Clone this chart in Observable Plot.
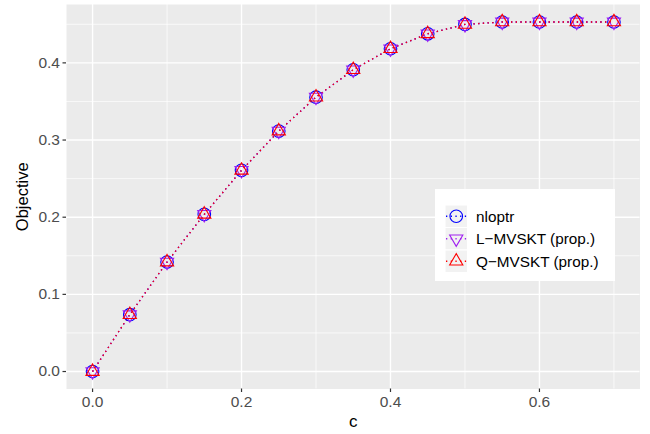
<!DOCTYPE html>
<html>
<head>
<meta charset="utf-8">
<script src="https://cdn.jsdelivr.net/npm/d3@7"></script>
<script src="https://cdn.jsdelivr.net/npm/@observablehq/plot@0.6"></script>
<style>
  html, body { margin: 0; padding: 0; background: #fff; }
  #wrap { position: relative; width: 650px; height: 434px; font-family: "Liberation Sans", Arial, sans-serif; }
  #legend { position: absolute; left: 435px; top: 189px; width: 180px; height: 92px; background: #fff; }
</style>
</head>
<body>
<div id="wrap"></div>
<script>
const cValues = [0, 0.05, 0.1, 0.15, 0.2, 0.25, 0.3, 0.35, 0.4, 0.45, 0.5, 0.55, 0.6, 0.65, 0.7];
const nloptr = [0, 0.0737, 0.1419, 0.2037, 0.2607, 0.3116, 0.3556, 0.3911, 0.4183, 0.4377, 0.4498, 0.4530, 0.4530, 0.4530, 0.4530];
const lMVSKT = [0, 0.0737, 0.1419, 0.2037, 0.2607, 0.3116, 0.3556, 0.3911, 0.4183, 0.4377, 0.4498, 0.4530, 0.4530, 0.4530, 0.4530];
const qMVSKT = [0, 0.0737, 0.1419, 0.2037, 0.2607, 0.3116, 0.3556, 0.3911, 0.4183, 0.4377, 0.4498, 0.4530, 0.4530, 0.4530, 0.4530];
const seriesNames = ["nloptr", "L\u2212MVSKT (prop.)", "Q\u2212MVSKT (prop.)"];
const seriesColors = ["#0000FF", "#A020F0", "#FF0000"];
const xMajor = [0, 0.2, 0.4, 0.6];
const xMinor = [0.1, 0.3, 0.5, 0.7];
const yMajor = [0, 0.1, 0.2, 0.3, 0.4];
const yMinor = [0.05, 0.15, 0.25, 0.35, 0.45];

const seriesValues = [nloptr, lMVSKT, qMVSKT];
const data = [];
seriesValues.forEach((vals, i) => {
  cValues.forEach((c, j) => data.push({c, y: vals[j], s: seriesNames[i]}));
});

const yMax = d3.max(data, d => d.y);
const xExp = 0.05 * (d3.max(cValues) - d3.min(cValues));
const yExp = 0.05 * yMax;

const dash = "1.3,3.4";
const tickFont = 15.5;
const fmt = d3.format(".1f");
const marks = [
  Plot.frame({fill: "#EBEBEB", stroke: null}),
  Plot.ruleX(xMinor, {stroke: "#fff", strokeWidth: 0.7}),
  Plot.ruleY(yMinor, {stroke: "#fff", strokeWidth: 0.7}),
  Plot.ruleX(xMajor, {stroke: "#fff", strokeWidth: 1.4}),
  Plot.ruleY(yMajor, {stroke: "#fff", strokeWidth: 1.4}),
  Plot.axisX(xMajor, {tickSize: 3.5, stroke: "#333", strokeWidth: 1.2, text: null, label: null}),
  Plot.axisY(yMajor, {tickSize: 3.5, stroke: "#333", strokeWidth: 1.2, text: null, label: null}),
  Plot.text(xMajor, {x: d => d, frameAnchor: "bottom", dy: 13, lineAnchor: "middle", text: fmt, fontSize: tickFont, fill: "#4D4D4D"}),
  Plot.text(yMajor, {y: d => d, frameAnchor: "left", dx: -6.5, textAnchor: "end", text: fmt, fontSize: tickFont, fill: "#4D4D4D"}),
];
seriesNames.forEach((name, i) => {
  marks.push(Plot.line(data.filter(d => d.s === name), {x: "c", y: "y", stroke: seriesColors[i], strokeWidth: 1.3, strokeDasharray: dash, strokeLinecap: "butt"}));
});
const symbols = ["circle", "triangle", "triangle"];
const radii = [6.3, 4.9, 4.9];
const rotations = [0, 180, 0];
seriesNames.forEach((name, i) => {
  marks.push(Plot.dot(data.filter(d => d.s === name), {x: "c", y: "y", symbol: symbols[i], r: radii[i], rotate: rotations[i], stroke: seriesColors[i], strokeWidth: 1.1, fill: "none"}));
});
marks.push(Plot.text(["c"], {frameAnchor: "bottom", dy: 38, fontSize: 17, fill: "#000"}));
marks.push(Plot.text(["Objective"], {frameAnchor: "left", textAnchor: "middle", dx: -44, rotate: -90, fontSize: 16.5, fill: "#000"}));

const chart = Plot.plot({
  width: 650,
  height: 434,
  marginLeft: 66,
  marginRight: 10.5,
  marginTop: 4,
  marginBottom: 45.5,
  style: {fontFamily: "'Liberation Sans', Arial, sans-serif", background: "#fff"},
  x: {domain: [d3.min(cValues) - xExp, d3.max(cValues) + xExp]},
  y: {domain: [-yExp, yMax + yExp]},
  marks
});
const wrap = document.getElementById("wrap");
wrap.appendChild(chart);

// Legend
const legend = document.createElement("div");
legend.id = "legend";
wrap.appendChild(legend);
const lsvg = d3.select(legend).append("svg").attr("width", 180).attr("height", 92);
const keyX = 10, keyY = 16, keySize = 22.5;
seriesNames.forEach((name, i) => {
  const y0 = keyY + i * keySize;
  const g = lsvg.append("g");
  g.append("rect").attr("x", keyX).attr("y", y0).attr("width", keySize).attr("height", keySize)
    .attr("fill", "#F2F2F2").attr("stroke", "#fff").attr("stroke-width", 1);
  const cx = keyX + keySize / 2, cy = y0 + keySize / 2;
  g.append("line").attr("x1", keyX + 1).attr("x2", keyX + keySize - 1).attr("y1", cy).attr("y2", cy)
    .attr("stroke", seriesColors[i]).attr("stroke-width", 1.3).attr("stroke-dasharray", dash);
  if (symbols[i] === "circle") {
    g.append("circle").attr("cx", cx).attr("cy", cy).attr("r", radii[i])
      .attr("fill", "none").attr("stroke", seriesColors[i]).attr("stroke-width", 1.1);
  } else {
    const path = d3.symbol(d3.symbolTriangle, Math.PI * radii[i] * radii[i])();
    g.append("path").attr("d", path).attr("transform", `translate(${cx},${cy}) rotate(${rotations[i]})`)
      .attr("fill", "none").attr("stroke", seriesColors[i]).attr("stroke-width", 1.1);
  }
  g.append("text").attr("x", 41).attr("y", cy).attr("dy", "0.35em")
    .attr("font-size", 15.3).attr("fill", "#000")
    .attr("font-family", "'Liberation Sans', Arial, sans-serif").text(name);
});
</script>
</body>
</html>
